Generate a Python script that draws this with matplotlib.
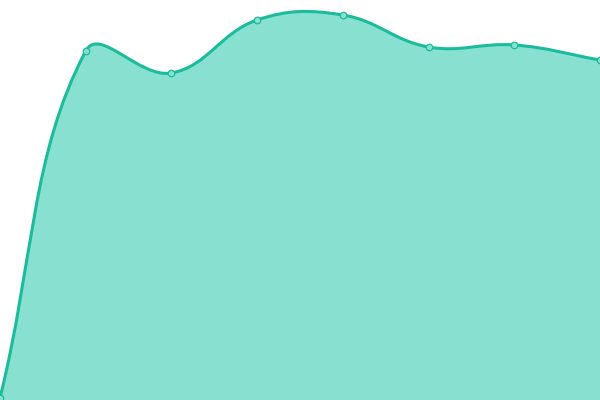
import matplotlib
matplotlib.use("Agg")
import matplotlib.pyplot as plt
import numpy as np
from matplotlib.path import Path
from matplotlib.patches import PathPatch

categories = ["A", "B", "C", "D", "E", "F", "G", "H"]
values = [2, 349, 327, 380, 385, 353, 355, 340]

LINE = "#1ABC9C"
FILL = "#88E0D0"
TENSION = 0.4

fig = plt.figure(figsize=(6, 4), dpi=100)
ax = fig.add_axes([0, 0, 1, 1])
ax.set_xlim(0, len(categories) - 1)
ax.set_ylim(0, 400)
ax.axis("off")

xs = np.arange(len(categories), dtype=float)
ys = np.array(values, dtype=float)
pts = np.column_stack([xs, ys])
disp = ax.transData.transform(pts)
n = len(disp)

prev_cp = []
next_cp = []
for i in range(n):
    a = disp[i - 1] if i > 0 else disp[i]
    m = disp[i]
    b = disp[i + 1] if i < n - 1 else disp[i]
    d01 = np.hypot(*(m - a))
    d12 = np.hypot(*(b - m))
    tot = d01 + d12
    s01 = d01 / tot if tot else 0
    s12 = d12 / tot if tot else 0
    fa = TENSION * s01
    fb = TENSION * s12
    prev_cp.append(m - fa * (b - a))
    next_cp.append(m + fb * (b - a))

# cap control points to the plotting area
x0, y0 = ax.transData.transform((xs[0], 0))
x1, y1 = ax.transData.transform((xs[-1], 400))
def cap(p):
    return np.array([min(max(p[0], x0), x1), min(max(p[1], y0), y1)])
prev_cp = [cap(p) for p in prev_cp]
next_cp = [cap(p) for p in next_cp]

inv = ax.transData.inverted()
dverts = [disp[0]]
codes = [Path.MOVETO]
for i in range(1, n):
    dverts += [next_cp[i - 1], prev_cp[i], disp[i]]
    codes += [Path.CURVE4] * 3
verts = [tuple(v) for v in inv.transform(np.array(dverts))]

line_path = Path(verts, codes)
fill_verts = verts + [(xs[-1], 0), (xs[0], 0), verts[0]]
fill_codes = codes + [Path.LINETO, Path.LINETO, Path.CLOSEPOLY]
ax.add_patch(PathPatch(Path(fill_verts, fill_codes), facecolor=FILL, edgecolor="none", zorder=1))
ax.add_patch(PathPatch(line_path, facecolor="none", edgecolor=LINE, lw=2.2, zorder=2, clip_on=False))
ax.scatter(xs, ys, s=22, facecolor=FILL, edgecolor=LINE, linewidth=0.9, zorder=3, clip_on=False)

fig.savefig("out.png", dpi=100)
